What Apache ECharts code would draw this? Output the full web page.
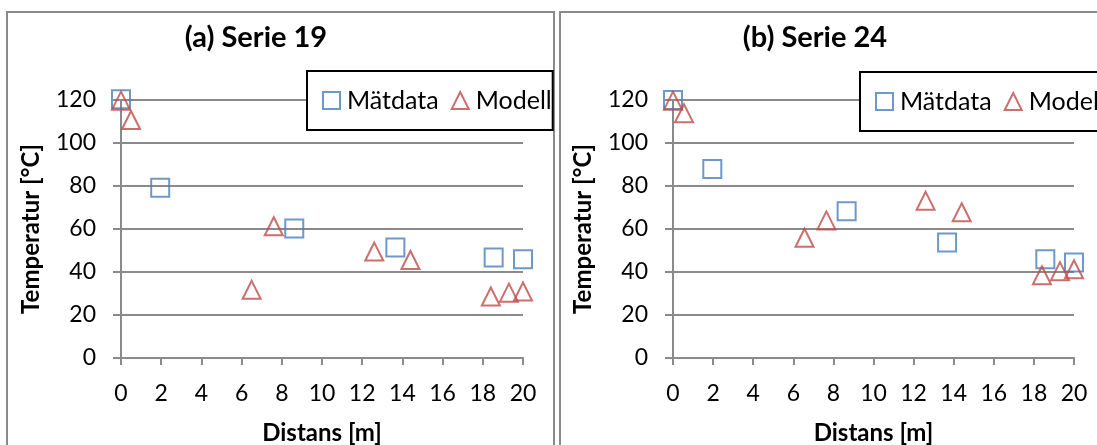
<!DOCTYPE html>
<html>
<head>
<meta charset="utf-8">
<script src="https://cdn.jsdelivr.net/npm/echarts@6/dist/echarts.min.js"></script>
<style>
html,body{margin:0;padding:0;background:#fff;}
#chart{width:1097px;height:445px;}
</style>
</head>
<body>
<div id="chart"></div>
<script>
// ---- data ----
const titles = ['(a) Serie 19', '(b) Serie 24'];
const seriesNames = ['Mätdata', 'Modell'];
const xAxisName = 'Distans [m]';
const yAxisName = 'Temperatur [°C]';

// Serie 19
const distMatA = [0, 1.95, 8.62, 13.65, 18.54, 20];
const tempMatA = [120.3, 79.2, 60.2, 51.4, 46.7, 45.9];
const distModA = [0, 0.5, 6.5, 7.6, 12.6, 14.4, 18.4, 19.3, 20];
const tempModA = [119.7, 110.7, 31.7, 61.3, 49.5, 45.6, 28.6, 30.4, 30.9];

// Serie 24
const distMatB = [0, 1.96, 8.66, 13.67, 18.57, 20];
const tempMatB = [120, 87.9, 68.2, 53.7, 45.9, 44.4];
const distModB = [0, 0.55, 6.56, 7.65, 12.6, 14.4, 18.4, 19.3, 20];
const tempModB = [119.7, 113.8, 55.9, 64.0, 73.1, 67.8, 38.5, 40.4, 41.3];

const xMin = 0, xMax = 20, xStep = 2;
const yMin = 0, yMax = 120, yStep = 20;

// ---- styles ----
const FONT = 'Lato';
const GRAY = '#8a8a8a';
const BLUE = '#4A7EBB';
const RED = '#BE4B48';

function pairs(xs, ys) { return xs.map((x, i) => [x, ys[i]]); }

function makeX(idx) {
  return {
    gridIndex: idx, type: 'value', min: xMin, max: xMax, interval: xStep,
    name: xAxisName, nameLocation: 'middle', nameGap: 63,
    nameTextStyle: { fontFamily: FONT, fontWeight: 'bold', fontSize: 24, color: '#000' },
    axisLine: { show: true, onZero: false, lineStyle: { color: GRAY, width: 2 } },
    axisTick: { show: true, inside: false, length: 7, lineStyle: { color: GRAY, width: 2 } },
    axisLabel: { fontFamily: FONT, fontSize: 23, color: '#000', margin: 24 },
    splitLine: { show: false }
  };
}
function makeY(idx) {
  return {
    gridIndex: idx, type: 'value', min: yMin, max: yMax, interval: yStep,
    name: yAxisName, nameLocation: 'middle', nameGap: 78, nameRotate: 90,
    nameTextStyle: { fontFamily: FONT, fontWeight: 'bold', fontSize: 24, color: '#000' },
    axisLine: { show: true, lineStyle: { color: GRAY, width: 2 } },
    axisTick: { show: true, inside: false, length: 8, lineStyle: { color: GRAY, width: 2 } },
    axisLabel: { fontFamily: FONT, fontSize: 23, color: '#000', margin: 25 },
    splitLine: { show: true, lineStyle: { color: GRAY, width: 2 } }
  };
}
function matSeries(idx, xs, ys) {
  return {
    name: seriesNames[0], type: 'scatter', xAxisIndex: idx, yAxisIndex: idx,
    symbol: 'rect', symbolSize: 18, clip: false, z: 3,
    itemStyle: { color: 'rgba(255,255,255,0)', borderColor: BLUE, borderWidth: 2 },
    data: pairs(xs, ys)
  };
}
function modSeries(idx, xs, ys) {
  return {
    name: seriesNames[1], type: 'scatter', xAxisIndex: idx, yAxisIndex: idx,
    symbol: 'triangle', symbolSize: 18, clip: false, z: 4,
    itemStyle: { color: 'rgba(255,255,255,0)', borderColor: RED, borderWidth: 2 },
    data: pairs(xs, ys)
  };
}
function makeLegend(left, top) {
  return {
    left: left, top: top, width: 240, orient: 'horizontal',
    data: seriesNames,
    backgroundColor: '#fff', borderColor: '#000', borderWidth: 2,
    padding: [17, 1, 17, 15],
    itemWidth: 17, itemHeight: 17, itemGap: 12,
    textStyle: { fontFamily: FONT, fontSize: 25, color: '#000', padding: [0, 0, 0, 2] },
    selectedMode: false, z: 10
  };
}

const chart = echarts.init(document.getElementById('chart'), null, { renderer: 'canvas' });
chart.setOption({
  backgroundColor: '#fff',
  animation: false,
  grid: [
    { left: 121, top: 100, width: 402, height: 258, outerBoundsMode: 'none', containLabel: false },
    { left: 673, top: 100, width: 401, height: 258, outerBoundsMode: 'none', containLabel: false }
  ],
  xAxis: [makeX(0), makeX(1)],
  yAxis: [makeY(0), makeY(1)],
  legend: [makeLegend(307, 71), makeLegend(860, 72)],
  graphic: [
    { type: 'rect', shape: { x: 7, y: 12, width: 547, height: 500 }, style: { fill: 'none', stroke: GRAY, lineWidth: 2 }, z: 0, silent: true },
    { type: 'rect', shape: { x: 560, y: 12, width: 600, height: 500 }, style: { fill: 'none', stroke: GRAY, lineWidth: 2 }, z: 0, silent: true },
    { type: 'text', x: 256, y: 38, style: { text: titles[0], font: 'bold 29px Lato', fill: '#000', textAlign: 'center', textVerticalAlign: 'middle' }, z: 10 },
    { type: 'text', x: 815, y: 38, style: { text: titles[1], font: 'bold 29px Lato', fill: '#000', textAlign: 'center', textVerticalAlign: 'middle' }, z: 10 }
  ],
  series: [
    matSeries(0, distMatA, tempMatA),
    modSeries(0, distModA, tempModA),
    matSeries(1, distMatB, tempMatB),
    modSeries(1, distModB, tempModB)
  ]
});
</script>
</body>
</html>
